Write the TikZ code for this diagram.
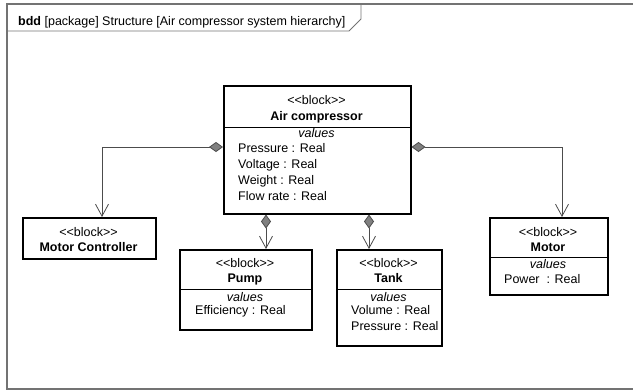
\documentclass[tikz,border=0pt]{standalone}
\usepackage{fontspec}
\setmainfont{Liberation Sans}
\usetikzlibrary{arrows.meta}
\newcommand{\Stereo}{<{}<block>{}>}
\tikzstyle{block} = [draw, line width=1.5pt, anchor=north west, inner sep=0pt]
\tikzstyle{txt} = [inner sep=0pt, anchor=base]
\tikzstyle{attr} = [inner sep=0pt, anchor=base west]
\tikzstyle{comp} = [draw=black!70, line width=0.8pt, arrows={Diamond[length=14pt,width=10pt,fill=black!50]-Straight Barb[length=12pt,width=13pt]}]
\begin{document}
\begin{tikzpicture}[x=1pt,y=-1pt,font=\fontsize{12.5}{15}\selectfont]

\clip (0,0) rectangle (633,391);

%%% %%%
% Frame
%%% %%%

\draw[black!55, line width=1.5pt] (7,4) rectangle (660,389);
\draw[black!55, line width=0.8pt] (7,31) -- (349,31) -- (361,19) -- (361,4);
\node[attr] (title) at (18,25) {\textbf{bdd} [package] Structure [Air compressor system hierarchy]};

%%% %%%
% Air compressor
%%% %%%

\node[block, minimum width=187pt, minimum height=128pt] (aircomp) at (223,85) {};
\draw[line width=0.8pt] (aircomp.west |- 0,127) -- (aircomp.east |- 0,127);
\node[txt] (ACst) at (316.5,104.5) {\Stereo};
\node[txt] (ACname) at (316.5,120.5) {\textbf{Air compressor}};
\node[txt] (ACval) at (316.5,137.5) {\textit{values}};
\foreach \a [count=\n] in {Pressure,Voltage,Weight,Flow rate}
\node[attr] (ACattr\n) at (238,136.8+\n*15.8) {\a{} : Real};

%%% %%%
% Motor Controller
%%% %%%

\node[block, minimum width=133pt, minimum height=41pt] (mc) at (22,217) {};
\node[txt] (MCst) at (88.5,236.5) {\Stereo};
\node[txt] (MCname) at (88.5,251.5) {\textbf{Motor Controller}};

%%% %%%
% Pump
%%% %%%

\node[block, minimum width=132pt, minimum height=80pt] (pump) at (179,249) {};
\draw[line width=0.8pt] (pump.west |- 0,289) -- (pump.east |- 0,289);
\node[txt] (PUst) at (245,267.5) {\Stereo};
\node[txt] (PUname) at (245,282.5) {\textbf{Pump}};
\node[txt] (PUval) at (245,301.5) {\textit{values}};
\node[attr] (PUattr1) at (195,314) {Efficiency : Real};

%%% %%%
% Tank
%%% %%%

\node[block, minimum width=105pt, minimum height=96pt] (tank) at (336,249) {};
\draw[line width=0.8pt] (tank.west |- 0,289) -- (tank.east |- 0,289);
\node[txt] (TAst) at (388.5,267.5) {\Stereo};
\node[txt] (TAname) at (388.5,282.5) {\textbf{Tank}};
\node[txt] (TAval) at (388.5,301.5) {\textit{values}};
\foreach \a [count=\n] in {Volume,Pressure}
\node[attr] (TAattr\n) at (351,298.5+\n*16) {\a{} : Real};

%%% %%%
% Motor
%%% %%%

\node[block, minimum width=118pt, minimum height=77pt] (motor) at (489,217) {};
\draw[line width=0.8pt] (motor.west |- 0,257) -- (motor.east |- 0,257);
\node[txt] (MOst) at (548,236.5) {\Stereo};
\node[txt] (MOname) at (548,251.5) {\textbf{Motor}};
\node[txt] (MOval) at (548,268.5) {\textit{values}};
\node[attr] (MOattr1) at (504,283.5) {Power\ \ : Real};

%%%
% Composition
%%%

\draw[comp] (aircomp.west |- 0,147) -| (102,0 |- mc.north);
\draw[comp] (aircomp.east |- 0,147) -| (562,0 |- motor.north);
\draw[comp] (266,0 |- aircomp.south) -- (266,0 |- pump.north);
\draw[comp] (369,0 |- aircomp.south) -- (369,0 |- tank.north);

\end{tikzpicture}
\end{document}
